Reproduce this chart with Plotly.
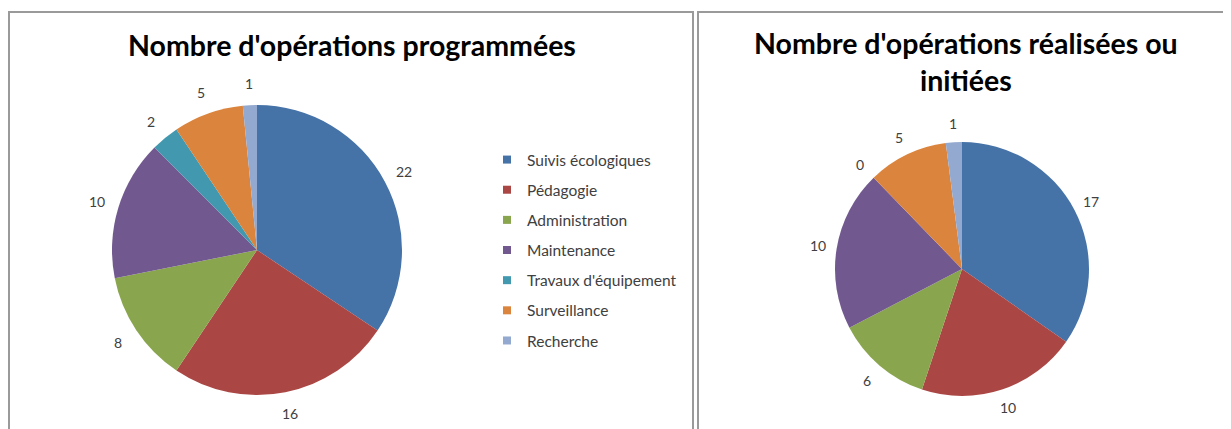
import numpy as np
import plotly.graph_objects as go

categories = ["Suivis écologiques", "Pédagogie", "Administration", "Maintenance",
              "Travaux d'équipement", "Surveillance", "Recherche"]
programmees = [22, 16, 8, 10, 2, 5, 1]
realisees = [17, 10, 6, 10, 0, 5, 1]
colors = ["#4572A7", "#AA4643", "#89A54E", "#71588F", "#4198AF", "#DB843D", "#93A9CF"]
title_left = "Nombre d'opérations programmées"
title_right = "Nombre d'opérations réalisées ou<br>initiées"

# the page body has an 8px margin; work in screen pixels and convert
OFF = 8
W, H = 1231 - OFF, 429 - OFF

def px_x(v):
    return (v - OFF) / W

def px_y(v):
    return 1 - (v - OFF) / H

FONT = "Lato, Liberation Sans, sans-serif"
label_font = dict(family=FONT, size=14, color="#404040")

pies = [
    dict(values=programmees, cx=257, cy=250, r=145),
    dict(values=realisees, cx=962, cy=269, r=127),
]

fig = go.Figure()
annotations = []

for p in pies:
    cx, cy, r = p["cx"], p["cy"], p["r"]
    fig.add_trace(go.Pie(
        labels=categories, values=p["values"], sort=False, direction="clockwise",
        marker=dict(colors=colors, line=dict(width=0)),
        textinfo="none", showlegend=False, hoverinfo="label+value",
        domain=dict(x=[px_x(cx - r), px_x(cx + r)], y=[px_y(cy + r), px_y(cy - r)]),
    ))
    vals = np.array(p["values"], dtype=float)
    cum = np.cumsum(vals) - vals / 2
    ang = cum / vals.sum() * 2 * np.pi
    R = 1.15 * r
    for v, a in zip(p["values"], ang):
        annotations.append(dict(
            text=str(v), xref="paper", yref="paper",
            x=px_x(cx + R * np.sin(a)), y=px_y(cy - R * np.cos(a)),
            xanchor="center", yanchor="middle", showarrow=False, font=label_font,
        ))

# legend entries
for cat, col in zip(categories, colors):
    fig.add_trace(go.Scatter(
        x=[None], y=[None], mode="markers", name=cat, legendgroup=cat,
        marker=dict(symbol="square", size=8, color=col),
        showlegend=True,
    ))

annotations += [
    dict(text="<b>" + title_left + "</b>", xref="paper", yref="paper",
         x=px_x(352), y=px_y(45), xanchor="center", yanchor="middle",
         showarrow=False, font=dict(family=FONT, size=28.5, color="black")),
    dict(text="<b>" + title_right + "</b>", xref="paper", yref="paper",
         x=px_x(966), y=px_y(62), xanchor="center", yanchor="middle",
         showarrow=False, font=dict(family=FONT, size=28.5, color="black")),
]

fig.update_layout(
    width=W, height=H,
    margin=dict(l=0, r=0, t=0, b=0),
    paper_bgcolor="white", plot_bgcolor="white",
    xaxis=dict(visible=False), yaxis=dict(visible=False),
    legend=dict(
        x=px_x(487), y=px_y(143), xanchor="left", yanchor="top",
        font=dict(family=FONT, size=15.5, color="#404040"),
        tracegroupgap=7, itemwidth=30, bgcolor="rgba(0,0,0,0)",
    ),
    shapes=[
        dict(type="rect", xref="paper", yref="paper",
             x0=px_x(9), x1=px_x(693), y0=-0.2, y1=px_y(12),
             line=dict(color="#9a9a9a", width=2)),
        dict(type="rect", xref="paper", yref="paper",
             x0=px_x(698), x1=1.2, y0=-0.2, y1=px_y(12),
             line=dict(color="#9a9a9a", width=2)),
    ],
    annotations=annotations,
)

fig.write_html("out.html")
